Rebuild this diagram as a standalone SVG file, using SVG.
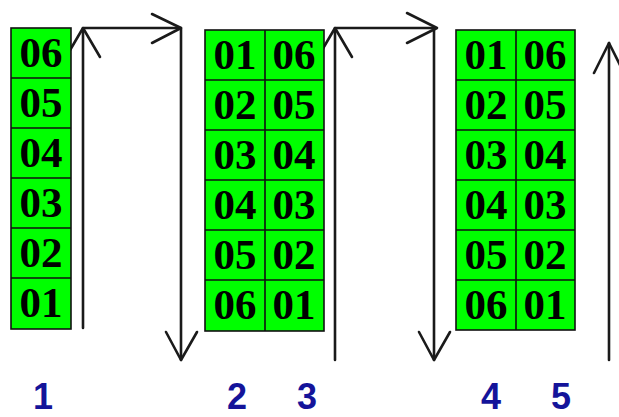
<svg xmlns="http://www.w3.org/2000/svg" width="619" height="417" viewBox="0 0 619 417">
<style>
.ln{fill:none;stroke:#1a1a1a;stroke-width:2.6;stroke-linecap:round;stroke-linejoin:round}
.cell{fill:#00ff00;stroke:#111;stroke-width:1.6}
.t{font-family:"Liberation Serif","Times New Roman",serif;font-weight:bold;font-size:43px;fill:#000;text-anchor:middle}
.n{font-family:"Liberation Sans",Arial,sans-serif;font-weight:bold;font-size:36px;fill:#14149a;text-anchor:middle}
</style>
<rect width="619" height="417" fill="#fff"/>
<g id="connectors">
  <path class="ln" d="M83,328 V28 H181 V360"/>
  <path class="ln" d="M66,57 L83,28 L100,57"/>
  <path class="ln" d="M152,14 L181,28 L152,43"/>
  <path class="ln" d="M166,332 L181,360 L197,332"/>
  <path class="ln" d="M335,360 V28 H434 V360"/>
  <path class="ln" d="M318,57 L335,28 L352,57"/>
  <path class="ln" d="M407,13 L437,28 L407,43"/>
  <path class="ln" d="M419,332 L434,360 L450,332"/>
  <path class="ln" d="M609,360 V43"/>
  <path class="ln" d="M594,73 L609,43 L624,73"/>
</g>
<g id="stack1">
  <rect class="cell" x="11" y="28" width="60" height="301"/>
  <path class="cell" d="M11,78 H71 M11,128 H71 M11,178 H71 M11,228 H71 M11,278 H71"/>
  <text class="t" x="41" y="67">06</text>
  <text class="t" x="41" y="117">05</text>
  <text class="t" x="41" y="167">04</text>
  <text class="t" x="41" y="217">03</text>
  <text class="t" x="41" y="267">02</text>
  <text class="t" x="41" y="317">01</text>
</g>
<g id="stack2">
  <rect class="cell" x="205" y="30" width="119" height="301"/>
  <path class="cell" d="M265,30 V331 M205,80 H324 M205,130 H324 M205,180 H324 M205,230 H324 M205,280 H324"/>
  <text class="t" x="235" y="69">01</text>
  <text class="t" x="235" y="119">02</text>
  <text class="t" x="235" y="169">03</text>
  <text class="t" x="235" y="219">04</text>
  <text class="t" x="235" y="269">05</text>
  <text class="t" x="235" y="319">06</text>
  <text class="t" x="294" y="69">06</text>
  <text class="t" x="294" y="119">05</text>
  <text class="t" x="294" y="169">04</text>
  <text class="t" x="294" y="219">03</text>
  <text class="t" x="294" y="269">02</text>
  <text class="t" x="294" y="319">01</text>
</g>
<g id="stack3">
  <rect class="cell" x="456" y="30" width="119" height="300"/>
  <path class="cell" d="M516,30 V330 M456,80 H575 M456,130 H575 M456,180 H575 M456,230 H575 M456,280 H575"/>
  <text class="t" x="486" y="69">01</text>
  <text class="t" x="486" y="119">02</text>
  <text class="t" x="486" y="169">03</text>
  <text class="t" x="486" y="219">04</text>
  <text class="t" x="486" y="269">05</text>
  <text class="t" x="486" y="319">06</text>
  <text class="t" x="545" y="69">06</text>
  <text class="t" x="545" y="119">05</text>
  <text class="t" x="545" y="169">04</text>
  <text class="t" x="545" y="219">03</text>
  <text class="t" x="545" y="269">02</text>
  <text class="t" x="545" y="319">01</text>
</g>
<g id="labels">
  <text class="n" x="43" y="409">1</text>
  <text class="n" x="237" y="409">2</text>
  <text class="n" x="307" y="409">3</text>
  <text class="n" x="491" y="409">4</text>
  <text class="n" x="561" y="409">5</text>
</g>
</svg>
